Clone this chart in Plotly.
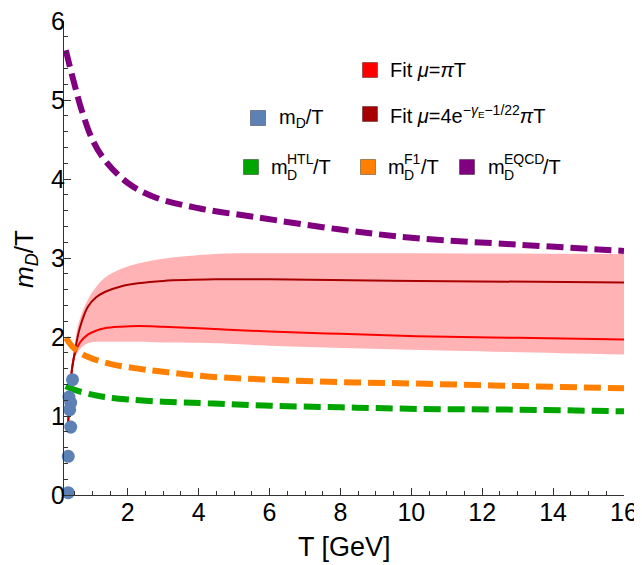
import plotly.graph_objects as go

# ---------------- data ----------------
T_lat = [0.32, 0.32, 0.39, 0.36, 0.39, 0.34, 0.44]
m_lat = [0.03, 0.49, 0.86, 1.08, 1.17, 1.24, 1.46]
m_lat_err = [0.03, 0.06, 0.08, 0.07, 0.06, 0.06, 0.05]

T_eqcd = [0.25, 0.35, 0.5, 0.7, 1.0, 1.35, 2.0, 2.76, 4.0, 5.57, 8.0, 10.16, 13.0, 16.0]
m_eqcd = [5.63, 5.45, 5.19, 4.87, 4.5, 4.24, 3.95, 3.77, 3.63, 3.52, 3.36, 3.25, 3.17, 3.09]

T_f1 = [0.25, 0.5, 0.87, 1.5, 2.29, 3.0, 4.26, 6.0, 8.0, 10.16, 13.0, 16.0]
m_f1 = [1.99, 1.85, 1.75, 1.66, 1.6, 1.56, 1.5, 1.46, 1.43, 1.41, 1.38, 1.35]

T_htl = [0.25, 0.5, 1.0, 1.35, 2.0, 3.0, 4.26, 6.0, 8.0, 10.16, 13.0, 16.0]
m_htl = [1.38, 1.33, 1.27, 1.24, 1.21, 1.18, 1.16, 1.13, 1.11, 1.09, 1.08, 1.06]

T_fit1 = [0.31, 0.35, 0.4, 0.5, 0.65, 0.87, 1.1, 1.35, 1.8, 2.29, 3.0, 4.46, 6.0, 8.0, 10.16, 13.0, 16.0]
m_fit1 = [0.82, 1.2, 1.5, 1.78, 1.93, 2.03, 2.08, 2.11, 2.13, 2.14, 2.13, 2.1, 2.07, 2.04, 2.01, 1.99, 1.97]

T_fit2 = [0.31, 0.35, 0.4, 0.5, 0.65, 0.87, 1.1, 1.35, 1.8, 2.29, 3.0, 4.46, 6.0, 10.16, 16.0]
m_fit2 = [0.82, 1.2, 1.5, 1.8, 2.12, 2.38, 2.5, 2.57, 2.64, 2.68, 2.71, 2.73, 2.73, 2.71, 2.69]

T_band = [0.5, 0.55, 0.7, 0.87, 1.1, 1.35, 1.8, 2.29, 3.0, 4.46, 6.0, 10.0, 16.0]
band_hi = [1.85, 2.05, 2.3, 2.47, 2.63, 2.75, 2.86, 2.93, 2.99, 3.05, 3.06, 3.06, 3.05]
band_lo = [1.74, 1.78, 1.87, 1.92, 1.94, 1.94, 1.94, 1.94, 1.93, 1.92, 1.89, 1.84, 1.78]

x_ticks = [2, 4, 6, 8, 10, 12, 14, 16]
y_ticks = [0, 1, 2, 3, 4, 5, 6]

# ---------------- styling ----------------
C_BLUE = "#5E81B5"
C_PURPLE = "#800080"
C_ORANGE = "#FF8000"
C_GREEN = "#00A500"
C_RED = "#FF0000"
C_DRED = "#A80000"
C_BAND = "#FFB3B5"
FONT = "Liberation Sans"

OFF = 8  # page body margin in the browser
W, H = 642 - OFF, 565 - OFF
# plot area in screenshot pixels: x 64..624, y 21..495
L, R, TOP, B = 64 - OFF, 642 - 624, 21 - OFF, 565 - 495
PW, PH = W - L - R, H - TOP - B


def px(xp):
    return (xp - OFF - L) / PW


def py(yp):
    return (H - B - (yp - OFF)) / PH


fig = go.Figure()

fig.add_trace(go.Scatter(x=T_band, y=band_lo, mode="lines", line=dict(width=0, shape="spline"),
                         hoverinfo="skip"))
fig.add_trace(go.Scatter(x=T_band, y=band_hi, mode="lines", line=dict(width=0, shape="spline"),
                         fill="tonexty", fillcolor=C_BAND, hoverinfo="skip"))
fig.add_trace(go.Scatter(x=T_fit1, y=m_fit1, mode="lines", line=dict(color=C_RED, width=2, shape="spline")))
fig.add_trace(go.Scatter(x=T_fit2, y=m_fit2, mode="lines", line=dict(color=C_DRED, width=2, shape="spline")))
fig.add_trace(go.Scatter(x=T_eqcd, y=m_eqcd, mode="lines",
                         line=dict(color=C_PURPLE, width=6, dash="17px,7px", shape="spline")))
fig.add_trace(go.Scatter(x=T_f1, y=m_f1, mode="lines",
                         line=dict(color=C_ORANGE, width=6, dash="17px,7px", shape="spline")))
fig.add_trace(go.Scatter(x=T_htl, y=m_htl, mode="lines",
                         line=dict(color=C_GREEN, width=6, dash="17px,7px", shape="spline")))
fig.add_trace(go.Scatter(x=T_lat, y=m_lat, mode="markers", cliponaxis=False,
                         marker=dict(color=C_BLUE, size=13),
                         error_y=dict(type="data", array=m_lat_err, color=C_BLUE, thickness=2, width=0)))

axis_common = dict(showline=True, linecolor="#333333", linewidth=1, showgrid=False, zeroline=False,
                   ticks="inside", ticklen=7, tickcolor="#333333", tickwidth=1, automargin=False,
                   ticklabeloverflow="allow",
                   tickfont=dict(family=FONT, size=25, color="black"), mirror=False)
fig.update_xaxes(range=[0.2, 16.0005], tickvals=x_ticks, ticktext=[str(v) for v in x_ticks],
                 ticklabelstandoff=-5,
                 minor=dict(dtick=0.5, tick0=0, ticks="inside", ticklen=4, tickcolor="#333333"),
                 **axis_common)
fig.update_yaxes(range=[0, 6.0005], tickvals=y_ticks, ticktext=[str(v) for v in y_ticks],
                 ticklabelstandoff=-7,
                 minor=dict(dtick=0.2, tick0=0, ticks="inside", ticklen=4, tickcolor="#333333"),
                 **axis_common)

annotations = []
shapes = []


def txt(xp, yp, text, size=20, **kw):
    d = dict(x=px(xp), y=py(yp), xref="paper", yref="paper", text=text, showarrow=False,
             xanchor="left", yanchor="middle", font=dict(family=FONT, size=size, color="black"))
    d.update(kw)
    annotations.append(d)


def square(xc, yc, color, s=15):
    shapes.append(dict(type="rect", xref="paper", yref="paper",
                       x0=px(xc - s / 2), x1=px(xc + s / 2), y0=py(yc + s / 2), y1=py(yc - s / 2),
                       fillcolor=color, line=dict(color="rgba(0,0,0,0.35)", width=1)))


def msym(xp, yp, sup, supw):
    txt(xp, yp, "m")
    txt(xp + 16, yp - 8, sup, size=14)
    txt(xp + 16, yp + 8, "D", size=14)
    txt(xp + 16 + supw, yp, "/T")


square(370, 70, C_RED)
txt(388, 70, "Fit <i>μ</i>=<i>π</i>T")
square(370, 114, C_DRED)
txt(388, 114, "Fit <i>μ</i>=4e<sup>−<i>γ</i><sub>E</sub>−1/22</sup><i>π</i>T")
square(258, 118, C_BLUE)
txt(277, 118, "m<sub>D</sub>/T")
square(251, 167, C_GREEN)
msym(269, 167, "HTL", 26)
square(368, 167, C_ORANGE)
msym(386, 167, "F1", 17)
square(467, 167, C_PURPLE)
msym(486, 167, "EQCD", 39)

# axis titles
annotations.append(dict(x=px(344), y=py(547), xref="paper", yref="paper", text="T [GeV]",
                        showarrow=False, xanchor="center", yanchor="middle",
                        font=dict(family=FONT, size=27, color="black")))
annotations.append(dict(x=px(25), y=py(259), xref="paper", yref="paper", text="<i>m<sub>D</sub></i>/T",
                        showarrow=False, xanchor="center", yanchor="middle", textangle=-90,
                        font=dict(family=FONT, size=26, color="black")))

fig.update_layout(width=W, height=H, margin=dict(l=L, r=R, t=TOP, b=B),
                  paper_bgcolor="white", plot_bgcolor="white", showlegend=False,
                  annotations=annotations, shapes=shapes)

fig.write_html("out.html")
